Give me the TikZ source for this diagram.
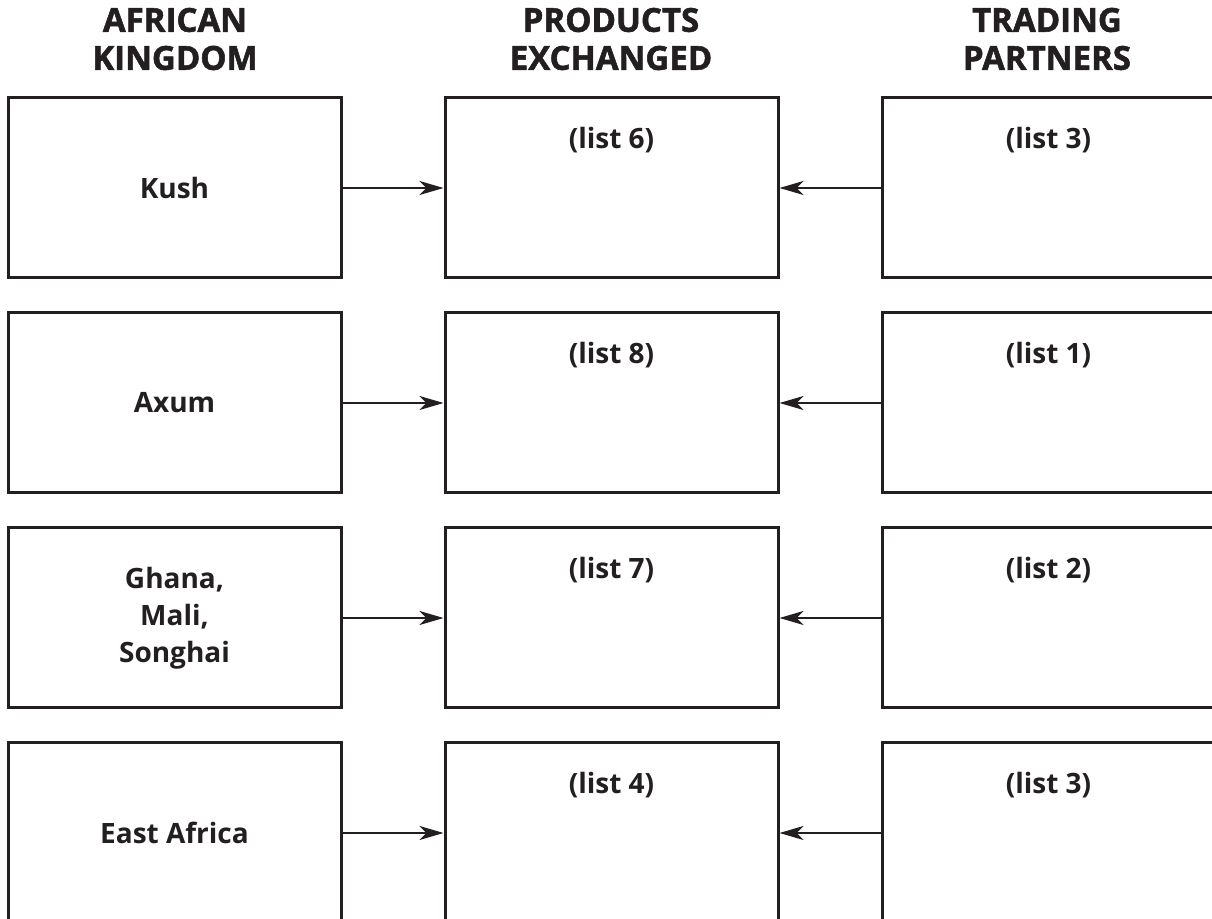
\documentclass[tikz,border=0pt]{standalone}
\usepackage{fontspec}
\setmainfont{Open Sans}
\newfontfamily\headfont{Open Sans}[BoldFeatures={FakeBold=1.6}]
\usetikzlibrary{arrows.meta}
\definecolor{ink}{HTML}{231F20}
\begin{document}
\begin{tikzpicture}[x=0.5pt,y=-0.5pt,
  box/.style={draw=ink,line width=1.5pt,minimum width=166.5pt,minimum height=90pt,inner sep=0pt},
  head/.style={font=\headfont\fontsize{16.5}{19}\selectfont\bfseries,text=ink,align=center},
  lbl/.style={font=\fontsize{14}{18.5}\selectfont\bfseries,text=ink,align=center},
  conn/.style={draw=ink,line width=1.1pt,-{Stealth[length=12pt,width=7pt,inset=3.5pt]}}]
\useasboundingbox (0,0) rectangle (1212,919);
\clip (0,0) rectangle (1212,919);
\node[head] (h1) at (175,39) {AFRICAN\\KINGDOM};
\node[head] (h2) at (611,39) {PRODUCTS\\EXCHANGED};
\node[head] (h3) at (1047,39) {TRADING\\PARTNERS};
\foreach \i/\k/\p/\t in {1/Kush/6/3, 2/Axum/8/1, 3/{Ghana,\\Mali,\\Songhai}/7/2, 4/East Africa/4/3}{
  \pgfmathsetmacro{\yy}{98+(\i-1)*215+90}
  \node[box] (k\i) at (174.5,\yy) {};
  \node[box] (p\i) at (611.5,\yy) {};
  \node[box] (t\i) at (1048.5,\yy) {};
  \node[lbl] (kl\i) at (k\i.center) {\k};
  \node[lbl] (pl\i) at ([yshift=-22pt]p\i.north) {(list \p)};
  \node[lbl] (tl\i) at ([yshift=-22pt]t\i.north) {(list \t)};
  \draw[conn] (k\i.east) -- (p\i.west);
  \draw[conn] (t\i.west) -- (p\i.east);
}
\end{tikzpicture}
\end{document}
